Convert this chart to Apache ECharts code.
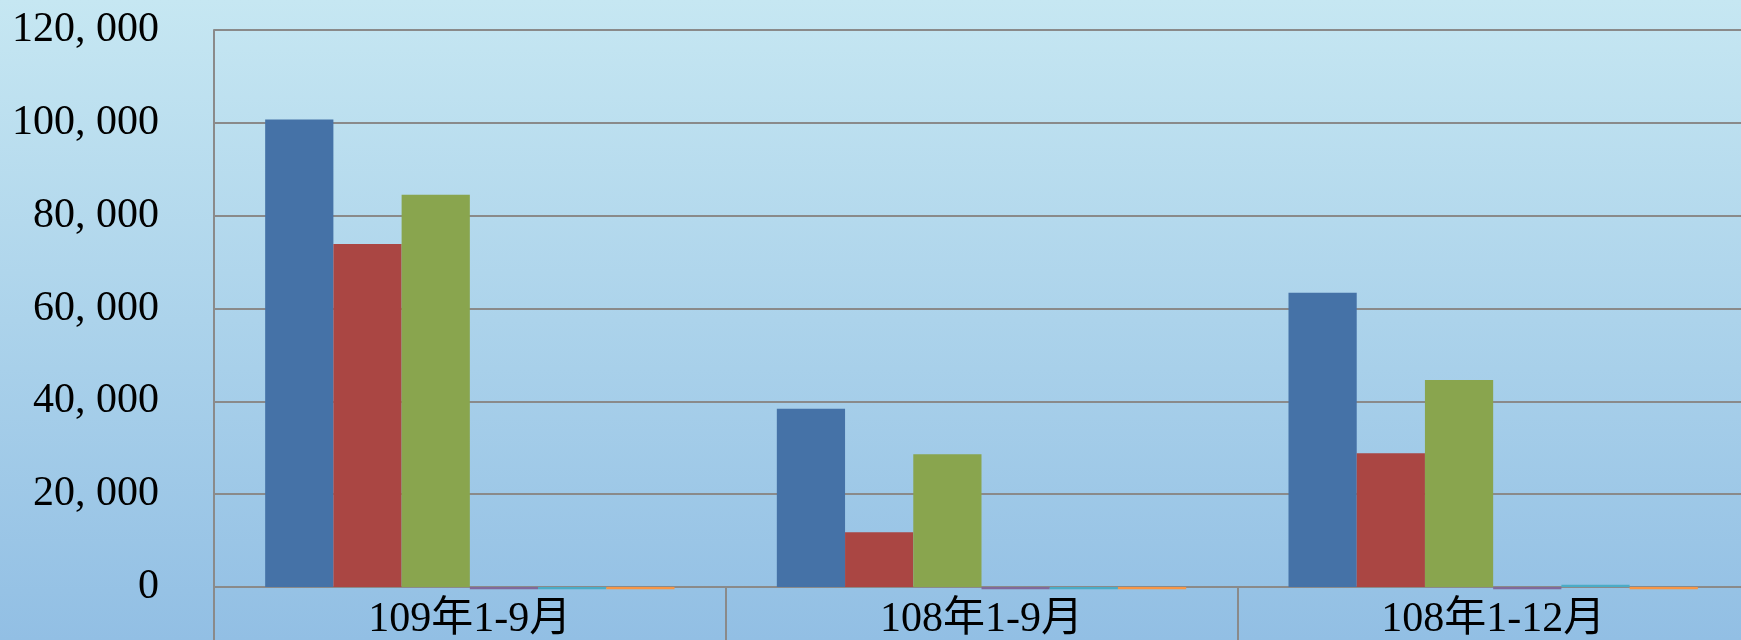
<!DOCTYPE html>
<html><head><meta charset="utf-8">
<script src="https://cdn.jsdelivr.net/npm/echarts@6/dist/echarts.min.js"></script>
<style>html,body{margin:0;padding:0;}#c{width:1741px;height:640px;background:linear-gradient(#c6e7f2,#92bfe4);}</style>
</head><body><div id="c"></div>
<script>
const categories = ['109年1-9月', '108年1-9月', '108年1-12月'];
const s1 = [100700, 38400, 63400];
const s2 = [73900, 11800, 28800];
const s3 = [84500, 28600, 44600];
const s4 = [-500, -500, -500];
const s5 = [-500, -500, 500];
const s6 = [-500, -500, -500];
const seriesNames = ['s1', 's2', 's3', 's4', 's5', 's6'];
const seriesData = [s1, s2, s3, s4, s5, s6];
const colors = ['#4572a7', '#aa4643', '#89a54e', '#80699b', '#4bacc6', '#f79646'];

const chart = echarts.init(document.getElementById('c'));
const fontFam = '"Liberation Serif", "Noto Sans CJK TC", serif';
chart.setOption({
  animation: false,
  grid: {left: 214, top: 30, bottom: 53, width: 1535, containLabel: false, outerBoundsMode: 'none'},
  xAxis: {
    type: 'category', data: categories,
    axisLine: {lineStyle: {color: '#8a8a8a', width: 2}},
    axisTick: {show: true, length: 60, lineStyle: {color: '#8a8a8a', width: 2}},
    axisLabel: {color: '#000', fontSize: 42, fontFamily: fontFam, margin: 12}
  },
  yAxis: {
    type: 'value', min: 0, max: 120000, interval: 20000,
    axisLine: {show: true, lineStyle: {color: '#8a8a8a', width: 2}},
    axisTick: {show: false},
    splitLine: {lineStyle: {color: '#8a8a8a', width: 2}},
    axisLabel: {color: '#000', fontSize: 42, fontFamily: fontFam, margin: 55,
      formatter: v => v.toLocaleString('en-US').replace(',', ', ')}
  },
  series: seriesData.map((d, i) => ({
    type: 'bar', name: seriesNames[i], data: d, clip: false,
    barGap: '0%', barCategoryGap: '20%',
    itemStyle: {color: colors[i]}
  }))
});
</script></body></html>
